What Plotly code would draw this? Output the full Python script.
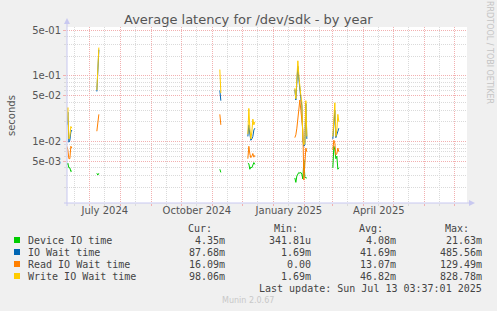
import plotly.graph_objects as go

# ---------------- data ----------------
dates = [
    "2024-06-08", "2024-06-09", "2024-06-10", "2024-06-11", "2024-06-12", "2024-06-13", "2024-06-14",
    "2024-07-08", "2024-07-09", "2024-07-10", "2024-07-11",
    "2024-11-08", "2024-11-09", "2024-11-10",
    "2024-12-06", "2024-12-07", "2024-12-08", "2024-12-09", "2024-12-10", "2024-12-11", "2024-12-12", "2024-12-13", "2024-12-14",
    "2025-01-22", "2025-01-23", "2025-01-24", "2025-01-25", "2025-01-26", "2025-01-27", "2025-01-28",
    "2025-01-29", "2025-01-30", "2025-01-31", "2025-02-01", "2025-02-02", "2025-02-03", "2025-02-04",
    "2025-03-01", "2025-03-02", "2025-03-03", "2025-03-04", "2025-03-05", "2025-03-06", "2025-03-07",
]

device_io = [
    0.0044, 0.0047, 0.0040, 0.0040, 0.0035, 0.0036, None,
    0.0033, 0.0031, 0.0033, None,
    0.0038, 0.0034, None,
    0.0047, 0.0046, 0.0038, 0.0041, 0.0040, 0.0046, 0.0048, 0.0045, None,
    0.0028, 0.0024, 0.0030, 0.0032, 0.0034, 0.0033, 0.0034,
    0.0032, 0.0027, 0.0052, 0.0029, 0.0028, 0.0028, None,
    0.0040, 0.0085, 0.0075, 0.0055, 0.0060, 0.0038, 0.0040,
]
io_wait = [
    0.018, 0.028, 0.0098, 0.0105, 0.014, 0.015, None,
    0.058, 0.13, 0.25, None,
    0.060, 0.042, None,
    0.012, 0.018, 0.013, 0.0105, 0.011, 0.012, 0.015, 0.016, None,
    0.062, 0.043, 0.080, 0.14, 0.090, 0.055, 0.045,
    0.035, 0.0105, 0.0085, 0.0090, 0.038, 0.011, None,
    0.011, 0.018, 0.030, 0.0115, 0.013, 0.014, 0.016,
]
read_io_wait = [
    0.0085, 0.0075, 0.0055, 0.0055, 0.0085, 0.0080, None,
    0.0144, 0.020, 0.026, None,
    0.026, 0.018, None,
    0.0055, 0.0085, 0.0065, 0.0057, 0.0060, 0.0066, 0.0058, 0.0062, None,
    0.0115, 0.0127, 0.016, 0.022, 0.028, 0.043, 0.030,
    0.020, 0.015, 0.0026, 0.0060, 0.0080, 0.0070, None,
    0.0075, 0.0105, 0.0095, 0.0063, 0.0065, 0.0080, 0.0070,
]
write_io_wait = [
    0.020, 0.033, 0.011, 0.012, 0.017, 0.016, None,
    0.061, 0.15, 0.27, None,
    0.125, 0.055, None,
    0.013, 0.032, 0.016, 0.011, 0.014, 0.022, 0.018, 0.020, None,
    0.065, 0.045, 0.090, 0.17, 0.10, 0.060, 0.050,
    0.040, 0.011, 0.0090, 0.0095, 0.042, 0.012, None,
    0.012, 0.025, 0.039, 0.012, 0.015, 0.026, 0.020,
]

series_names = ["Device IO time", "IO Wait time", "Read IO Wait time", "Write IO Wait time"]
series_colors = ["#00cc00", "#0066b3", "#ff8000", "#ffcc00"]
cur_vals = ["4.35m", "87.68m", "16.09m", "98.06m"]
min_vals = ["341.81u", "1.69m", "0.00", "1.69m"]
avg_vals = ["4.08m", "41.69m", "13.07m", "46.82m"]
max_vals = ["21.63m", "485.56m", "129.49m", "828.78m"]

x_start = "2024-06-08 03:37:01"
x_end = "2025-07-13 03:37:01"
month_starts = ["2024-07-01", "2024-08-01", "2024-09-01", "2024-10-01", "2024-11-01", "2024-12-01",
                "2025-01-01", "2025-02-01", "2025-03-01", "2025-04-01", "2025-05-01", "2025-06-01",
                "2025-07-01"]
mid_months = ["2024-06-16", "2024-07-16", "2024-08-16", "2024-09-16", "2024-10-16", "2024-11-16",
              "2024-12-16", "2025-01-16", "2025-02-16", "2025-03-16", "2025-04-16", "2025-05-16",
              "2025-06-16"]
label_dates = ["2024-07-16", "2024-10-16", "2025-01-16", "2025-04-16"]
label_texts = ["July 2024", "October 2024", "January 2025", "April 2025"]

y_major = [0.5, 0.1, 0.05, 0.01, 0.005]
y_major_text = ["5e-01", "1e-01", "5e-02", "1e-02", "5e-03"]
y_minor = [m * 10.0 ** k for k in (-3, -2, -1) for m in (2, 3, 4, 6, 7, 8, 9)]

# ---------------- layout helpers ----------------
W, H = 497, 311
L, R, T, B = 67, 467, 27, 203


def px(x):
    return (x - L) / (R - L)


def py(y):
    return (B - y) / (B - T)


fig = go.Figure()
series_vals = [device_io, io_wait, read_io_wait, write_io_wait]
for name, col, vals in zip(series_names, series_colors, series_vals):
    fig.add_trace(go.Scatter(x=dates, y=vals, mode="lines", name=name,
                             line=dict(color=col, width=1), connectgaps=False,
                             showlegend=False, hoverinfo="skip"))
# invisible trace to activate the label axis
fig.add_trace(go.Scatter(x=[label_dates[0]], y=[None], xaxis="x2", showlegend=False,
                         hoverinfo="skip", mode="lines"))

MAJ = "#f2b0b0"
MIN = "#dadada"
fig.update_layout(
    width=W, height=H,
    margin=dict(l=L, r=W - R, t=T, b=H - B),
    paper_bgcolor="#f0f0f0", plot_bgcolor="#ffffff",
    showlegend=False,
    font=dict(family="DejaVu Sans", size=10, color="#555555"),
    xaxis=dict(
        type="date", range=[x_start, x_end], tickmode="array", tickvals=month_starts,
        showticklabels=False, showgrid=True, gridcolor=MAJ, griddash="1px,1px", gridwidth=1,
        ticks="outside", ticklen=2, tickcolor=MAJ, zeroline=False, showline=False,
        minor=dict(tickmode="array", tickvals=mid_months, showgrid=True, gridcolor=MIN,
                   griddash="1px,1px", ticks="outside", ticklen=2, tickcolor=MIN),
    ),
    xaxis2=dict(
        type="date", range=[x_start, x_end], overlaying="x", anchor="y", side="bottom",
        tickmode="array", tickvals=label_dates, ticktext=label_texts, showgrid=False,
        ticks="", zeroline=False, showline=False,
        tickfont=dict(family="DejaVu Sans", size=10, color="#555555"),
    ),
    yaxis=dict(
        type="log", tickmode="array", tickvals=y_major,
        ticktext=y_major_text, showgrid=True, gridcolor=MAJ, griddash="1px,1px",
        ticks="outside", ticklen=3, tickcolor=MAJ, zeroline=False, showline=False,
        tickfont=dict(family="DejaVu Sans", size=10, color="#555555"),
        minor=dict(tickmode="array", tickvals=y_minor, showgrid=True, gridcolor=MIN,
                   griddash="1px,1px", ticks="outside", ticklen=2, tickcolor=MIN),
    ),
)
fig.update_yaxes(range=[-2.934, -0.2553])

AX = "#c8c8f0"
shapes = [
    dict(type="line", xref="paper", yref="paper", x0=px(L), x1=px(L), y0=py(B + 3), y1=py(T - 4),
         line=dict(color=AX, width=1)),
    dict(type="line", xref="paper", yref="paper", x0=px(L - 3), x1=px(R + 3), y0=py(B), y1=py(B),
         line=dict(color=AX, width=1)),
    dict(type="path", xref="paper", yref="paper",
         path=f"M {px(L-3)} {py(T-3)} L {px(L+3)} {py(T-3)} L {px(L)} {py(T-9)} Z",
         fillcolor=AX, line=dict(color=AX, width=0)),
    dict(type="path", xref="paper", yref="paper",
         path=f"M {px(R+2)} {py(B-3)} L {px(R+2)} {py(B+3)} L {px(R+8)} {py(B)} Z",
         fillcolor=AX, line=dict(color=AX, width=0)),
]

annotations = [
    dict(text="Average latency for /dev/sdk - by year", x=px(248), y=py(19), xref="paper", yref="paper",
         showarrow=False, xanchor="center", yanchor="middle",
         font=dict(family="DejaVu Sans", size=13, color="#555555")),
    dict(text="seconds", x=px(11), y=py(115), xref="paper", yref="paper", showarrow=False,
         textangle=-90, xanchor="center", yanchor="middle",
         font=dict(family="DejaVu Sans", size=10, color="#555555")),
    dict(text="RRDTOOL / TOBI OETIKER", x=px(490), y=py(52), xref="paper", yref="paper",
         showarrow=False, textangle=90, xanchor="center", yanchor="middle",
         font=dict(family="DejaVu Sans", size=8, color="#c4c4c4")),
    dict(text="Munin 2.0.67", x=px(248), y=py(300), xref="paper", yref="paper", showarrow=False,
         xanchor="center", yanchor="middle", font=dict(family="DejaVu Sans", size=8, color="#c8c8c8")),
    dict(text="Last update: Sun Jul 13 03:37:01 2025", x=px(484), y=py(288), xref="paper", yref="paper",
         showarrow=False, xanchor="right", yanchor="middle",
         font=dict(family="DejaVu Sans Mono", size=10, color="#444444")),
]

mono = dict(family="DejaVu Sans Mono", size=10, color="#444444")
for hdr, xr in zip(["Cur:", "Min:", "Avg:", "Max:"], [214, 300, 385, 471]):
    annotations.append(dict(text=hdr, x=px(xr), y=py(228), xref="paper", yref="paper",
                            showarrow=False, xanchor="right", yanchor="middle", font=mono))

row_y = [240, 252, 264, 276]
for i, (name, col) in enumerate(zip(series_names, series_colors)):
    yy = row_y[i]
    shapes.append(dict(type="rect", xref="paper", yref="paper", x0=px(14), x1=px(20),
                       y0=py(yy + 3), y1=py(yy - 3), fillcolor=col, line=dict(width=0)))
    annotations.append(dict(text=name, x=px(26), y=py(yy), xref="paper", yref="paper",
                            showarrow=False, xanchor="left", yanchor="middle", font=mono))
    for vals, xr in zip([cur_vals, min_vals, avg_vals, max_vals], [227, 313, 398, 484]):
        annotations.append(dict(text=vals[i], x=px(xr), y=py(yy), xref="paper", yref="paper",
                                showarrow=False, xanchor="right", yanchor="middle", font=mono))

fig.update_layout(shapes=shapes, annotations=annotations)
fig.write_html("out.html")
